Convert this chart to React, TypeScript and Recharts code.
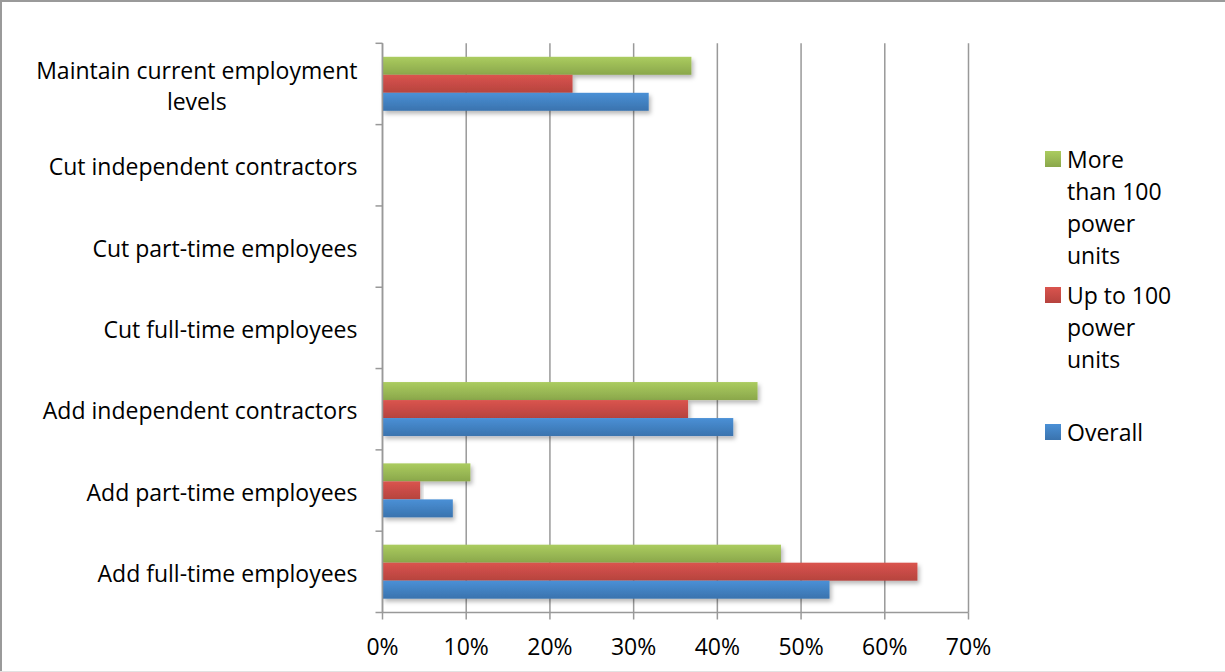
import React from 'react';
import { BarChart, Bar, XAxis, YAxis, CartesianGrid, Legend } from 'recharts';

const categories = [
  'Maintain current employment levels',
  'Cut independent contractors',
  'Cut part-time employees',
  'Cut full-time employees',
  'Add independent contractors',
  'Add part-time employees',
  'Add full-time employees',
];
const categoryLines: string[][] = [
  ['Maintain current employment', 'levels'],
  ['Cut independent contractors'],
  ['Cut part-time employees'],
  ['Cut full-time employees'],
  ['Add independent contractors'],
  ['Add part-time employees'],
  ['Add full-time employees'],
];
const moreThan100 = [36.9, 0, 0, 0, 44.8, 10.5, 47.6];
const upTo100 = [22.7, 0, 0, 0, 36.5, 4.5, 63.9];
const overall = [31.8, 0, 0, 0, 41.9, 8.4, 53.4];
const xTicks = [0, 10, 20, 30, 40, 50, 60, 70];
const seriesNames = ['More than 100 power units', 'Up to 100 power units', 'Overall'];
const legendLines: string[][] = [
  ['More', 'than 100', 'power', 'units'],
  ['Up to 100', 'power', 'units'],
  ['Overall'],
];
const seriesKeys = ['more', 'up', 'overall'];
const gradTop = ['#abcc5f', '#da544e', '#4a90d6'];
const gradBottom = ['#8aa74b', '#b6433e', '#3a73ae'];
const legendTops = [0, 136, 273];

const FONT = '"Open Sans", "Noto Sans", sans-serif';
const FS = 23;
const TICK_SIZE = 7;
const TICK_MARGIN = 18;
const AXIS_COLOR = '#999999';

const data = categories.map((c, i) => ({
  category: c,
  more: moreThan100[i],
  up: upTo100[i],
  overall: overall[i],
}));

let ctx: CanvasRenderingContext2D | null = null;
function measure(t: string): number {
  if (!ctx) ctx = document.createElement('canvas').getContext('2d');
  if (!ctx) return t.length * FS * 0.55;
  ctx.font = `${FS}px "Open Sans"`;
  return ctx.measureText(t).width;
}

const YTick = (props: any) => {
  const { x, y, payload } = props;
  const idx = categories.indexOf(payload.value);
  const lines = idx >= 0 ? categoryLines[idx] : [String(payload.value)];
  const half = payload && typeof payload.offset === 'number' && payload.offset > 0 ? payload.offset : 40.7;
  const lx1 = x + TICK_MARGIN;
  const lx2 = lx1 + TICK_SIZE;
  const isLast = idx === categories.length - 1;
  let text: React.ReactNode;
  if (lines.length === 1) {
    text = (
      <text x={x} y={y + 2} dy="0.355em" textAnchor="end" fontFamily={FONT} fontSize={FS} fill="#000">
        {lines[0]}
      </text>
    );
  } else {
    const w = Math.max(...lines.map(measure));
    const cx = x - w / 2;
    const gap = 31;
    const start = y - ((lines.length - 1) * gap) / 2 + 2;
    text = (
      <text textAnchor="middle" fontFamily={FONT} fontSize={FS} fill="#000">
        {lines.map((l, i) => (
          <tspan key={i} x={cx} y={start + i * gap} dy="0.355em">
            {l}
          </tspan>
        ))}
      </text>
    );
  }
  return (
    <g>
      <line x1={lx1} x2={lx2} y1={y - half} y2={y - half} stroke={AXIS_COLOR} strokeWidth={1.5} />
      {isLast && <line x1={lx1} x2={lx2} y1={y + half} y2={y + half} stroke={AXIS_COLOR} strokeWidth={1.5} />}
      {text}
    </g>
  );
};

const makeShape = (i: number) => (props: any) => {
  const { x, y, width, height } = props;
  if (!width || width <= 0) return <g />;
  return (
    <rect x={x} y={y} width={width} height={height} fill={`url(#grad${i})`} filter="url(#barShadow)" />
  );
};

const LegendContent = () => (
  <div style={{ position: 'relative', width: 178, height: 320, fontFamily: FONT, fontSize: FS, color: '#000' }}>
    {seriesNames.map((name, i) => (
      <div key={name} style={{ position: 'absolute', left: 0, top: legendTops[i], display: 'flex', alignItems: 'flex-start' }}>
        <div
          style={{
            width: 16,
            height: 16,
            marginTop: 8,
            background: `linear-gradient(${gradTop[i]}, ${gradBottom[i]})`,
          }}
        />
        <div style={{ marginLeft: 6, lineHeight: '32px', whiteSpace: 'nowrap' }}>
          {legendLines[i].map((l, j) => (
            <div key={j}>{l}</div>
          ))}
        </div>
      </div>
    ))}
  </div>
);

export default function App() {
  return (
    <div style={{ position: 'absolute', left: 0, top: 0, width: 1225, height: 672, background: '#fff' }}>
      <BarChart
        width={1225}
        height={672}
        data={data}
        layout="vertical"
        margin={{ top: 43.3, right: 256.5, bottom: 9.5, left: 0 }}
        barCategoryGap="16.6%"
        barGap={0}
      >
        <defs>
          {gradTop.map((c, i) => (
            <linearGradient key={i} id={`grad${i}`} x1="0" y1="0" x2="0" y2="1">
              <stop offset="0%" stopColor={c} />
              <stop offset="100%" stopColor={gradBottom[i]} />
            </linearGradient>
          ))}
          <filter id="barShadow" x="-5%" y="-30%" width="115%" height="190%">
            <feDropShadow dx="2" dy="3" stdDeviation="2" floodColor="#000" floodOpacity="0.28" />
          </filter>
        </defs>
        <CartesianGrid horizontal={false} stroke={AXIS_COLOR} strokeWidth={1.5} />
        <XAxis
          type="number"
          domain={[0, 70]}
          ticks={xTicks}
          interval={0}
          tickFormatter={(v: number) => `${v}%`}
          height={50}
          tickSize={TICK_SIZE}
          tickMargin={19}
          axisLine={{ stroke: AXIS_COLOR, strokeWidth: 1.5 }}
          tickLine={{ stroke: AXIS_COLOR, strokeWidth: 1.5 }}
          tick={{ fontFamily: FONT, fontSize: FS, fill: '#000' }}
        />
        <YAxis
          type="category"
          dataKey="category"
          width={382.5}
          interval={0}
          tickLine={false}
          tickSize={TICK_SIZE}
          tickMargin={TICK_MARGIN}
          axisLine={{ stroke: AXIS_COLOR, strokeWidth: 1.5 }}
          tick={<YTick />}
        />
        <Legend
          layout="vertical"
          align="center"
          verticalAlign="middle"
          wrapperStyle={{ left: 1045, top: 143, width: 178 }}
          content={<LegendContent />}
        />
        {seriesKeys.map((k, i) => (
          <Bar key={k} dataKey={k} name={seriesNames[i]} fill={gradTop[i]} shape={makeShape(i)} isAnimationActive={false} />
        ))}
      </BarChart>
      <div style={{ position: 'absolute', left: 0, top: 0, width: 1225, height: 2, background: '#9a9a9a' }} />
      <div style={{ position: 'absolute', left: 0, top: 0, width: 2, height: 672, background: '#9a9a9a' }} />
      <div style={{ position: 'absolute', left: 0, top: 671, width: 1225, height: 1, background: '#e2e2e2' }} />
    </div>
  );
}
